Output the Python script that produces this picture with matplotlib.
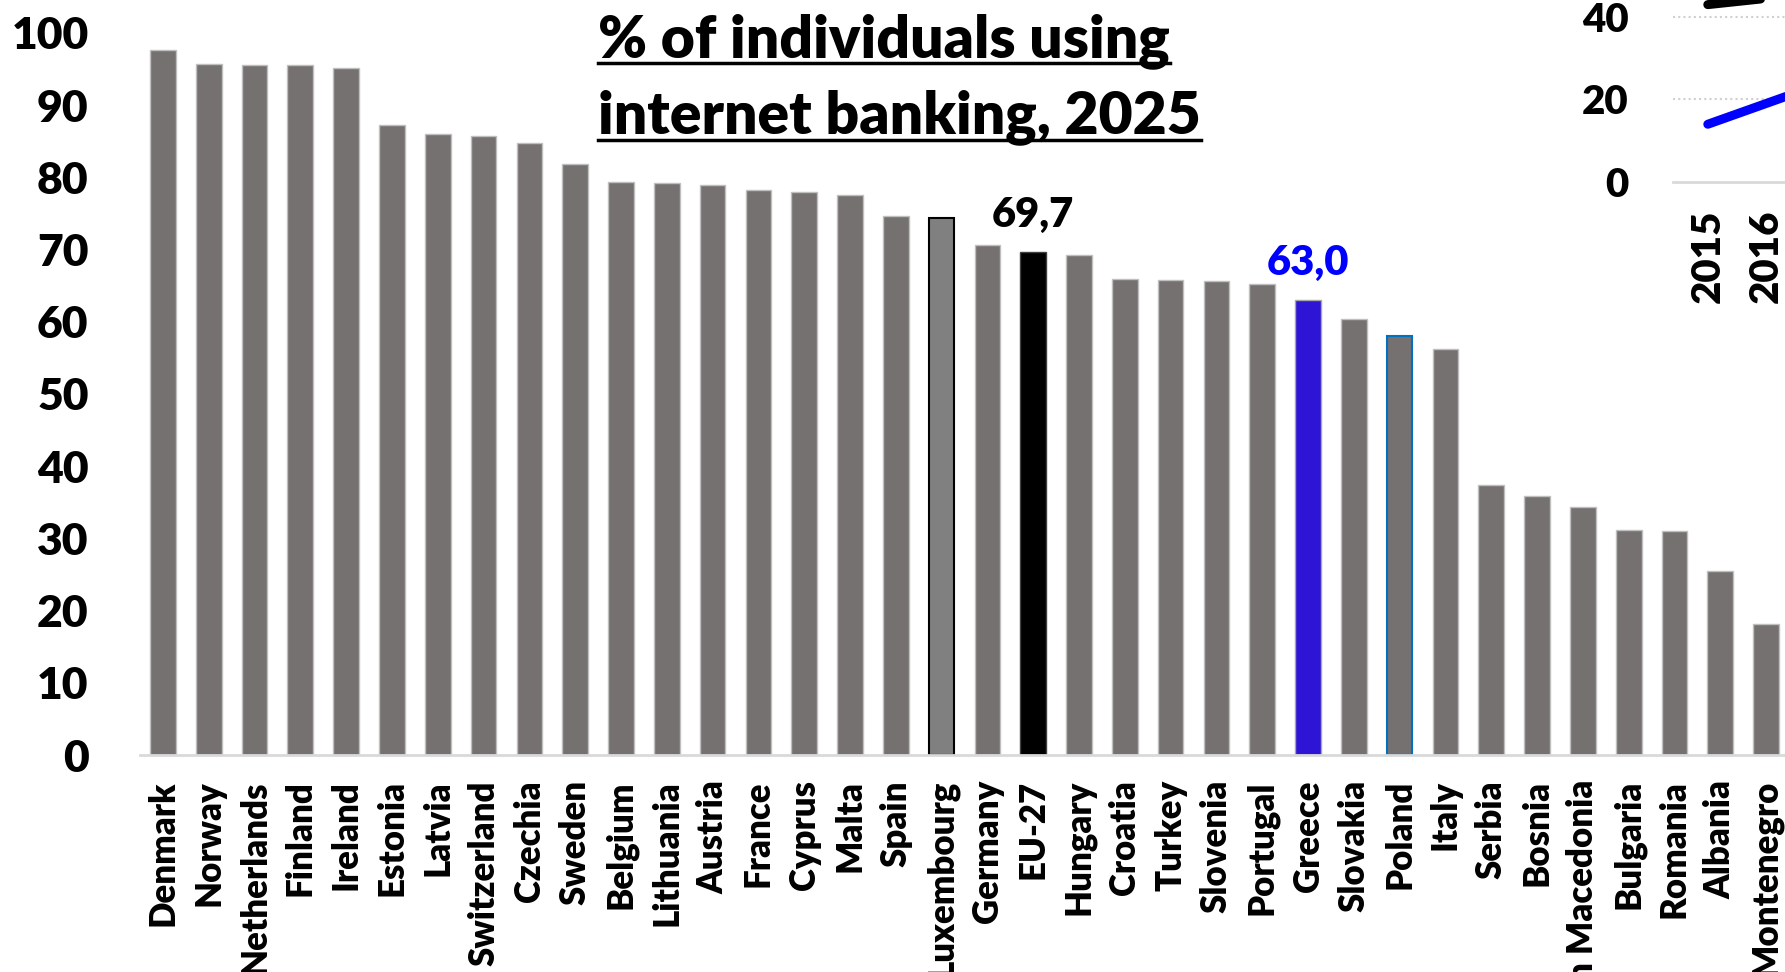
import matplotlib
matplotlib.use("Agg")
import matplotlib.pyplot as plt
from matplotlib.lines import Line2D

plt.rcParams['font.family'] = ['Lato', 'DejaVu Sans']
plt.rcParams['font.weight'] = 'heavy'
WT = 'heavy'

# main bar chart data, 2025
countries = ['Denmark', 'Norway', 'Netherlands', 'Finland', 'Ireland', 'Estonia',
             'Latvia', 'Switzerland', 'Czechia', 'Sweden', 'Belgium', 'Lithuania',
             'Austria', 'France', 'Cyprus', 'Malta', 'Spain', 'Luxembourg',
             'Germany', 'EU-27', 'Hungary', 'Croatia', 'Turkey', 'Slovenia',
             'Portugal', 'Greece', 'Slovakia', 'Poland', 'Italy', 'Serbia',
             'Bosnia', 'North Macedonia', 'Bulgaria', 'Romania', 'Albania',
             'Montenegro']
values = [97.6, 95.7, 95.5, 95.5, 95.1, 87.2,
          86.0, 85.7, 84.8, 81.9, 79.3, 79.2,
          79.0, 78.3, 78.0, 77.5, 74.7, 74.4,
          70.7, 69.7, 69.2, 65.9, 65.8, 65.7,
          65.3, 63.0, 60.4, 58.0, 56.2, 37.4,
          35.9, 34.4, 31.1, 31.0, 25.5, 18.1]

# inset line chart (only the start is visible)
years = ['2015', '2016', '2017']
eu_line = [43.0, 44.5, 46.0]
greece_line = [14.0, 19.0, 24.0]

W, H = 1785, 972
fig = plt.figure(figsize=(W / 100, H / 100), dpi=100)

# main axes
ax = fig.add_axes([140 / W, 217 / H, 1649 / W, 722 / H])
x = list(range(len(countries)))
colors = []
edges = []
for c in countries:
    if c == 'EU-27':
        colors.append('black'); edges.append('#404040')
    elif c == 'Greece':
        colors.append('#2e15d6'); edges.append('#a6a6a6')
    elif c == 'Luxembourg':
        colors.append('#808080'); edges.append('black')
    elif c == 'Poland':
        colors.append('#767171'); edges.append('#0070c0')
    else:
        colors.append('#767171'); edges.append('#bfbfbf')
lw = [1.5 if c in ('Luxembourg', 'Poland') else 1.0 for c in countries]
ax.bar(x, values, width=0.56, color=colors, edgecolor=edges, linewidth=lw, zorder=2)

ax.set_xlim(-0.5, len(countries) - 0.5)
ax.set_ylim(0, 100)
ax.set_yticks(range(0, 101, 10))
ax.set_xticks(x)
ax.set_xticklabels(countries, rotation=90, fontsize=25, fontweight=WT)
ax.tick_params(axis='x', length=0, pad=18)
ax.tick_params(axis='y', length=0, pad=37, labelsize=32)
for s in ['top', 'right', 'left']:
    ax.spines[s].set_visible(False)
ax.spines['bottom'].set_color('#d9d9d9')
ax.spines['bottom'].set_linewidth(2)

i_eu = countries.index('EU-27')
i_gr = countries.index('Greece')
ax.annotate('69,7', (i_eu, values[i_eu]), xytext=(0, 18), textcoords='offset points',
            ha='center', va='baseline', fontsize=30, fontweight=WT, color='black')
ax.annotate('63,0', (i_gr, values[i_gr]), xytext=(0, 18), textcoords='offset points',
            ha='center', va='baseline', fontsize=30, fontweight=WT, color='#0000ff')

# title, two underlined lines
t1 = fig.text(598 / W, 1 - 57 / H, '% of individuals using', fontsize=42.3,
              fontweight=WT, ha='left', va='baseline')
t2 = fig.text(598 / W, 1 - 133 / H, 'internet banking, 2025', fontsize=42.3,
              fontweight=WT, ha='left', va='baseline')

# inset
ax2 = fig.add_axes([1673 / W, 790 / H, 11.1 * 58 / W, 330 / H])
xi = list(range(len(years)))
ax2.plot(xi, eu_line, color='black', lw=6.5, solid_capstyle='round')
ax2.plot(xi, greece_line, color='#0000ff', lw=6.5, solid_capstyle='round')
ax2.set_xlim(-0.6, 10.5)
ax2.set_ylim(0, 80)
ax2.set_yticks([0, 20, 40, 60, 80])
ax2.set_xticks(xi)
ax2.set_xticklabels(years, rotation=90, fontsize=29, fontweight=WT)
ax2.tick_params(axis='y', length=0, pad=32, labelsize=29)
ax2.tick_params(axis='x', length=0, pad=20)
for yv in [20, 40, 60, 80]:
    ax2.axhline(yv, color='#d0d0d0', lw=1.5, ls=(0, (1, 1.5)), zorder=0)
for s in ['top', 'right', 'left']:
    ax2.spines[s].set_visible(False)
ax2.spines['bottom'].set_color('#d9d9d9')
ax2.spines['bottom'].set_linewidth(2)

# underline title lines
fig.canvas.draw()
r = fig.canvas.get_renderer()
for t, yb in [(t1, 63), (t2, 140)]:
    bb = t.get_window_extent(r)
    fig.add_artist(Line2D([bb.x0 / W, bb.x1 / W], [1 - yb / H, 1 - yb / H],
                          color='black', lw=2.5))

fig.savefig('out.png', dpi=100)
